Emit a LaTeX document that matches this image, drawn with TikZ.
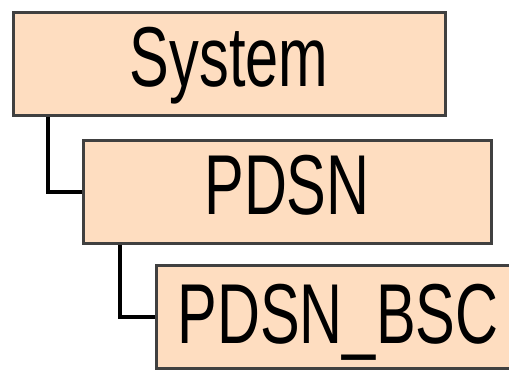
\documentclass[tikz,border=0pt]{standalone}
\usepackage{graphicx}
\usepackage{fontspec}
\setmainfont{Liberation Sans}
\usepackage{tikz}
\usetikzlibrary{positioning}
\definecolor{peach}{RGB}{254,221,192}
\tikzset{
	levelbox/.style = {
			draw            = black!75,
			fill            = peach,
			line width      = 3pt,
			inner sep       = 0pt,
			minimum height  = 103pt,
			text height     = 61pt,
			text depth      = 16pt,
			font            = \fontsize{85}{85}\selectfont,
		},
	link/.style = {
			draw       = black,
			line width = 4pt,
		}
}
\newcommand{\narrowtext}[1]{\scalebox{0.70}[1]{#1}}

\begin{document}
\begin{tikzpicture}[x=1pt,y=-1pt]
		\useasboundingbox (0,0) rectangle (509,371);

		\node[levelbox,minimum width=432pt] at (229,64) (system) {\narrowtext{System}};
		\node[levelbox,minimum width=408pt] at (287,192.5) (pdsn) {\narrowtext{PDSN}};
		\node[levelbox,minimum width=364pt,text depth=9pt] at (338,317.5) (pdsnbsc) {\narrowtext{PDSN\_BSC}};

		\draw[link] (system.south west) ++(36,0) |- (pdsn.west);
		\draw[link] (pdsn.south west) ++(38,0) |- (pdsnbsc.west);
	\end{tikzpicture}
\end{document}
